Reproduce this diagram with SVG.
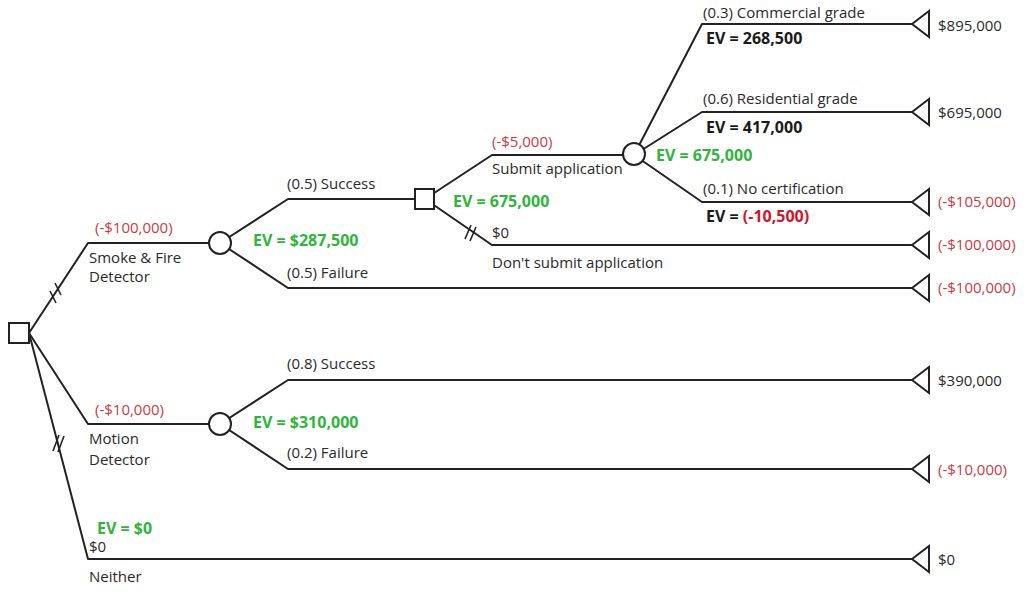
<svg xmlns="http://www.w3.org/2000/svg" width="1028" height="592" viewBox="0 0 1028 592">
  <style>
    .ln { fill: none; stroke: #222; stroke-width: 2; stroke-linejoin: round; }
    .hash { fill: none; stroke: #222; stroke-width: 1.6; }
    .dec { fill: #fff; stroke: #222; stroke-width: 2; }
    .chance { fill: #fff; stroke: #222; stroke-width: 2; }
    .end { fill: #fff; stroke: #222; stroke-width: 2; stroke-linejoin: miter; }
    text { font-family: "Open Sans", "Liberation Sans", sans-serif; font-size: 15px; fill: #2a2a2a; }
    .red { fill: #cc3a3f; }
    .green { fill: #2fb53c; font-weight: bold; font-size: 16px; }
    .bold { font-weight: bold; fill: #1a1a1a; font-size: 16px; }
    .bred { font-weight: bold; fill: #d0142a; }
  </style>
  <rect width="1028" height="592" fill="#fff"/>

  <!-- branches -->
  <g id="connectors">
    <!-- root decision -->
    <polyline class="ln" points="29,333 88,243 220,243"/>
    <polyline class="ln" points="29,333 88,424 220,424"/>
    <polyline class="ln" points="29,333 88,559 912,559"/>
    <!-- smoke & fire chance -->
    <polyline class="ln" points="220,243 288,199 425,199"/>
    <polyline class="ln" points="220,243 288,288 912,288"/>
    <!-- application decision -->
    <polyline class="ln" points="425,199 492,155 634,155"/>
    <polyline class="ln" points="425,199 492,245 912,245"/>
    <!-- certification chance -->
    <polyline class="ln" points="634,155 702,24 912,24"/>
    <polyline class="ln" points="634,155 702,112 912,112"/>
    <polyline class="ln" points="634,155 702,202 912,202"/>
    <!-- motion detector chance -->
    <polyline class="ln" points="220,424 288,380 912,380"/>
    <polyline class="ln" points="220,424 288,469 912,469"/>
    <!-- pruned-branch marks -->
    <path class="hash" d="M55,283 L61,295 M50,291 L56,303"/>
    <path class="hash" d="M53,451 L59,435 M58,452 L64,436"/>
    <path class="hash" d="M465,239 L471,225 M470,241 L476,227"/>
  </g>

  <!-- decision nodes -->
  <g id="root-decision">
    <rect class="dec" x="9" y="323" width="20" height="20"/>
  </g>
  <g id="application-decision">
    <rect class="dec" x="415" y="189" width="19" height="20"/>
  </g>

  <!-- chance nodes -->
  <g id="smoke-chance">
    <circle class="chance" cx="220" cy="243" r="11"/>
  </g>
  <g id="motion-chance">
    <circle class="chance" cx="220" cy="424" r="11"/>
  </g>
  <g id="certification-chance">
    <circle class="chance" cx="634" cy="154" r="11"/>
  </g>

  <!-- end nodes -->
  <g id="end-commercial"><polygon class="end" points="912,24 929,11 929,37"/><text x="938" y="31">$895,000</text></g>
  <g id="end-residential"><polygon class="end" points="912,112 929,99 929,125"/><text x="938" y="118">$695,000</text></g>
  <g id="end-nocert"><polygon class="end" points="912,202 929,189 929,215"/><text class="red" x="938" y="207">(-$105,000)</text></g>
  <g id="end-nosubmit"><polygon class="end" points="912,245 929,232 929,258"/><text class="red" x="938" y="250">(-$100,000)</text></g>
  <g id="end-smoke-fail"><polygon class="end" points="912,288 929,275 929,301"/><text class="red" x="938" y="293">(-$100,000)</text></g>
  <g id="end-motion-success"><polygon class="end" points="912,380 929,367 929,393"/><text x="938" y="386">$390,000</text></g>
  <g id="end-motion-fail"><polygon class="end" points="912,469 929,456 929,482"/><text class="red" x="938" y="475">(-$10,000)</text></g>
  <g id="end-neither"><polygon class="end" points="912,559 929,546 929,572"/><text x="938" y="565">$0</text></g>

  <!-- branch labels -->
  <g id="labels">
    <text class="red" x="95" y="233">(-$100,000)</text>
    <text x="89" y="263">Smoke &amp; Fire</text>
    <text x="89" y="282">Detector</text>
    <text class="green" x="253" y="246">EV = $287,500</text>
    <text x="287" y="189">(0.5) Success</text>
    <text x="287" y="278">(0.5) Failure</text>

    <text class="green" x="453" y="207">EV = 675,000</text>
    <text class="red" x="492" y="147">(-$5,000)</text>
    <text x="492" y="174">Submit application</text>
    <text x="492" y="238">$0</text>
    <text x="492" y="268">Don't submit application</text>

    <text class="green" x="656" y="161">EV = 675,000</text>
    <text x="703" y="18">(0.3) Commercial grade</text>
    <text class="bold" x="706" y="44">EV = 268,500</text>
    <text x="703" y="104">(0.6) Residential grade</text>
    <text class="bold" x="706" y="133">EV = 417,000</text>
    <text x="703" y="194">(0.1) No certification</text>
    <text class="bold" x="706" y="222">EV = <tspan class="bred">(-10,500)</tspan></text>

    <text class="red" x="95" y="415">(-$10,000)</text>
    <text x="89" y="444">Motion</text>
    <text x="89" y="465">Detector</text>
    <text class="green" x="253" y="428">EV = $310,000</text>
    <text x="287" y="369">(0.8) Success</text>
    <text x="287" y="458">(0.2) Failure</text>

    <text class="green" x="97" y="534">EV = $0</text>
    <text x="89" y="552">$0</text>
    <text x="89" y="582">Neither</text>
  </g>
</svg>
